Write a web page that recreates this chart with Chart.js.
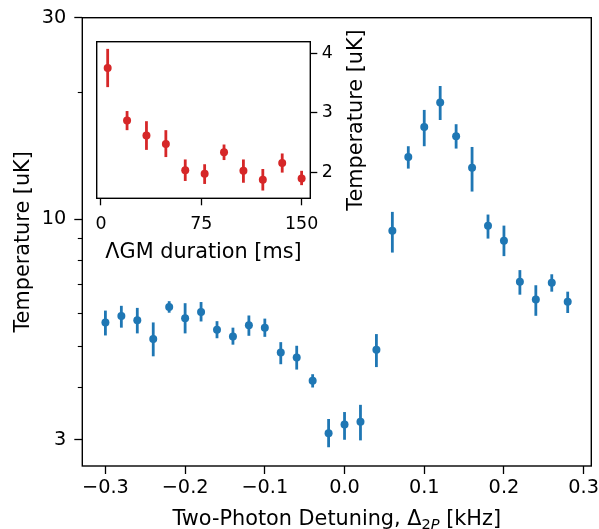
<!DOCTYPE html>
<html><head><meta charset="utf-8">
<script src="https://cdn.jsdelivr.net/npm/chart.js@4.4.0/dist/chart.umd.min.js"></script>
<style>
html,body{margin:0;padding:0;background:#fff;}
#wrap{position:relative;width:599px;height:529px;overflow:hidden;}
canvas{position:absolute;left:0;top:0;}
</style></head><body>
<div id="wrap"><canvas id="main" width="599" height="529"></canvas><canvas id="inset" width="599" height="529"></canvas></div>
<script>
// ---- main panel data ----
const detuning = [-0.30,-0.28,-0.26,-0.24,-0.22,-0.20,-0.18,-0.16,-0.14,-0.12,-0.10,-0.08,-0.06,-0.04,-0.02,0.00,0.02,0.04,0.06,0.08,0.10,0.12,0.14,0.16,0.18,0.20,0.22,0.24,0.26,0.28];
const temperature = [5.69,5.89,5.76,5.20,6.19,5.82,6.02,5.47,5.27,5.60,5.53,4.83,4.70,4.14,3.11,3.26,3.31,4.90,9.38,14.04,16.53,18.88,15.71,13.24,9.64,8.89,7.10,6.45,7.07,6.37];
const tempLow = [5.30,5.53,5.36,4.73,6.00,5.36,5.72,5.22,5.04,5.29,5.26,4.53,4.40,3.99,2.88,3.00,2.99,4.46,8.33,13.17,14.88,17.17,14.69,11.62,8.99,8.17,6.62,5.90,6.73,5.99];
const tempHigh = [6.07,6.23,6.16,5.69,6.39,6.32,6.36,5.73,5.53,5.91,5.81,5.11,5.01,4.29,3.36,3.49,3.63,5.34,10.40,14.88,18.14,20.67,16.78,14.82,10.25,9.65,7.57,6.97,7.40,6.73];
const xTickValues = [-0.3,-0.2,-0.1,0,0.1,0.2,0.3];
const xTickLabels = ['\u22120.3','\u22120.2','\u22120.1','0.0','0.1','0.2','0.3'];
const yTickValues = [3,10,30];
const yTickLabels = ['3','10','30'];
const yMinorTicks = [4,5,6,7,8,9,20];

// ---- inset data ----
const duration = [5,19.5,34,48.5,63,77.5,92,106.5,121,135.5,150];
const insetTemp = [3.75,2.87,2.62,2.48,2.04,1.98,2.34,2.03,1.88,2.16,1.90];
const insetLow  = [3.43,2.71,2.38,2.26,1.86,1.81,2.21,1.83,1.70,2.00,1.79];
const insetHigh = [4.07,3.03,2.86,2.71,2.22,2.14,2.47,2.22,2.06,2.32,2.03];
const insetXTickValues = [0,75,150];
const insetXTickLabels = ['0','75','150'];
const insetYTickValues = [2,3,4];
const insetYTickLabels = ['2','3','4'];

const FONT = 'DejaVu Sans';
Chart.defaults.font.family = FONT;
Chart.defaults.color = '#000';

function errorBars(xs, lows, highs, color, width) {
  return {id: 'errorBars', beforeDatasetsDraw(chart) {
    const ctx = chart.ctx, sx = chart.scales.x, sy = chart.scales.y;
    ctx.save(); ctx.strokeStyle = color; ctx.lineWidth = width; ctx.lineCap = 'butt';
    xs.forEach((x, i) => {
      const px = sx.getPixelForValue(x);
      ctx.beginPath();
      ctx.moveTo(px, sy.getPixelForValue(lows[i]));
      ctx.lineTo(px, sy.getPixelForValue(highs[i]));
      ctx.stroke();
    });
    ctx.restore();
  }};
}
function frame(extra) {
  return {id: 'frame', afterDraw(chart) {
    const ctx = chart.ctx, a = chart.chartArea;
    ctx.save(); ctx.strokeStyle = '#000'; ctx.lineWidth = 1.4;
    ctx.strokeRect(a.left, a.top, a.right - a.left, a.bottom - a.top);
    ctx.restore();
    if (extra) extra(chart, ctx, a);
  }};
}

const mainChart = new Chart(document.getElementById('main'), {
  type: 'scatter',
  data: {datasets: [{
    data: detuning.map((x, i) => ({x: x, y: temperature[i]})),
    backgroundColor: '#1f77b4', borderWidth: 0, pointRadius: 4, pointHoverRadius: 4
  }]},
  options: {
    responsive: false, animation: false, events: [],
    layout: {padding: {left: 0, right: 7.7, top: 17.7, bottom: 0}},
    plugins: {legend: {display: false}, tooltip: {enabled: false}},
    scales: {
      x: {type: 'linear', min: -0.329, max: 0.3096,
        afterBuildTicks: s => { s.ticks = xTickValues.map(v => ({value: v})); },
        afterFit: s => { s.height = 63; s.paddingRight = 0; s.paddingLeft = 0; },
        ticks: {callback: (v, i) => xTickLabels[i], autoSkip: false, maxRotation: 0, padding: 4,
          font: {size: 19.3, lineHeight: 1}, color: '#000'},
        grid: {drawOnChartArea: false, drawTicks: true, tickLength: 8, tickColor: '#000', tickWidth: 1.3},
        border: {display: false}},
      y: {type: 'logarithmic', min: 2.6, max: 30,
        afterBuildTicks: s => { s.ticks = yTickValues.map(v => ({value: v})); },
        afterFit: s => { s.width = 82.3; s.paddingTop = 0; s.paddingBottom = 0; },
        ticks: {callback: (v, i) => yTickLabels[i], autoSkip: false, padding: 8,
          font: {size: 19.3, lineHeight: 1}, color: '#000'},
        grid: {drawOnChartArea: false, drawTicks: true, tickLength: 8, tickColor: '#000', tickWidth: 1.3},
        border: {display: false}}
    }
  },
  plugins: [errorBars(detuning, tempLow, tempHigh, '#1f77b4', 2.8), frame((chart, ctx, a) => {
    const sy = chart.scales.y;
    ctx.save(); ctx.strokeStyle = '#000'; ctx.lineWidth = 1.1;
    yMinorTicks.forEach(v => {
      const py = Math.round(sy.getPixelForValue(v)) + 0.5;
      ctx.beginPath(); ctx.moveTo(a.left - 4.5, py); ctx.lineTo(a.left, py); ctx.stroke();
    });
    ctx.fillStyle = '#000';
    // y title
    ctx.font = '20.8px "' + FONT + '"';
    ctx.save(); ctx.translate(28.5, (a.top + a.bottom) / 2); ctx.rotate(-Math.PI / 2);
    ctx.textAlign = 'center'; ctx.textBaseline = 'alphabetic';
    ctx.fillText('Temperature [uK]', 0, 0); ctx.restore();
    // x title with subscript
    const p1 = 'Two-Photon Detuning, \u0394', p3 = ' [kHz]';
    const big = '20.8px "' + FONT + '"', small = '14.6px "' + FONT + '"', smallI = 'italic 14.6px "' + FONT + '"';
    ctx.font = big; const w1 = ctx.measureText(p1).width, w3 = ctx.measureText(p3).width;
    ctx.font = small; const w2a = ctx.measureText('2').width;
    ctx.font = smallI; const w2b = ctx.measureText('P').width;
    const total = w1 + w2a + w2b + w3;
    let x0 = (a.left + a.right) / 2 - total / 2; const base = 524.5;
    ctx.textAlign = 'left'; ctx.textBaseline = 'alphabetic';
    ctx.font = big; ctx.fillText(p1, x0, base); x0 += w1;
    ctx.font = small; ctx.fillText('2', x0, base + 4); x0 += w2a;
    ctx.font = smallI; ctx.fillText('P', x0, base + 4); x0 += w2b;
    ctx.font = big; ctx.fillText(p3, x0, base);
    ctx.restore();
  })]
});

const insetChart = new Chart(document.getElementById('inset'), {
  type: 'scatter',
  data: {datasets: [{
    data: duration.map((x, i) => ({x: x, y: insetTemp[i]})),
    backgroundColor: '#d62728', borderWidth: 0, pointRadius: 4, pointHoverRadius: 4
  }]},
  options: {
    responsive: false, animation: false, events: [],
    layout: {padding: {left: 96.7, right: 599 - 310.3 - 40, top: 41.7, bottom: 529 - 198.3 - 40}},
    plugins: {legend: {display: false}, tooltip: {enabled: false}},
    scales: {
      x: {type: 'linear', min: -3.2, max: 156.5,
        afterBuildTicks: s => { s.ticks = insetXTickValues.map(v => ({value: v})); },
        afterFit: s => { s.height = 40; },
        ticks: {callback: (v, i) => insetXTickLabels[i], autoSkip: false, maxRotation: 0, padding: 10.5,
          font: {size: 17.4, lineHeight: 1}, color: '#000'},
        grid: {drawOnChartArea: false, drawTicks: true, tickLength: 7, tickColor: '#000', tickWidth: 1.3},
        border: {display: false}},
      y: {type: 'linear', position: 'right', min: 1.57, max: 4.19,
        afterBuildTicks: s => { s.ticks = insetYTickValues.map(v => ({value: v})); },
        afterFit: s => { s.width = 40; },
        ticks: {callback: (v, i) => insetYTickLabels[i], autoSkip: false, padding: 4.5,
          font: {size: 17.4, lineHeight: 1}, color: '#000'},
        grid: {drawOnChartArea: false, drawTicks: true, tickLength: 7, tickColor: '#000', tickWidth: 1.3},
        border: {display: false}}
    }
  },
  plugins: [{id: 'bg', beforeDraw(chart) {
      const a = chart.chartArea, ctx = chart.ctx;
      ctx.save(); ctx.fillStyle = '#fff'; ctx.fillRect(a.left, a.top, a.right - a.left, a.bottom - a.top); ctx.restore();
    }},
    errorBars(duration, insetLow, insetHigh, '#d62728', 2.8),
    frame((chart, ctx, a) => {
      ctx.save(); ctx.fillStyle = '#000';
      ctx.font = '20.8px "' + FONT + '"';
      ctx.textAlign = 'center'; ctx.textBaseline = 'alphabetic';
      ctx.fillText('\u039BGM duration [ms]', (a.left + a.right) / 2, 257.5);
      ctx.save(); ctx.translate(361.5, (a.top + a.bottom) / 2); ctx.rotate(-Math.PI / 2);
      ctx.fillText('Temperature [uK]', 0, 0); ctx.restore();
      ctx.restore();
    })]
});
</script>
</body></html>
